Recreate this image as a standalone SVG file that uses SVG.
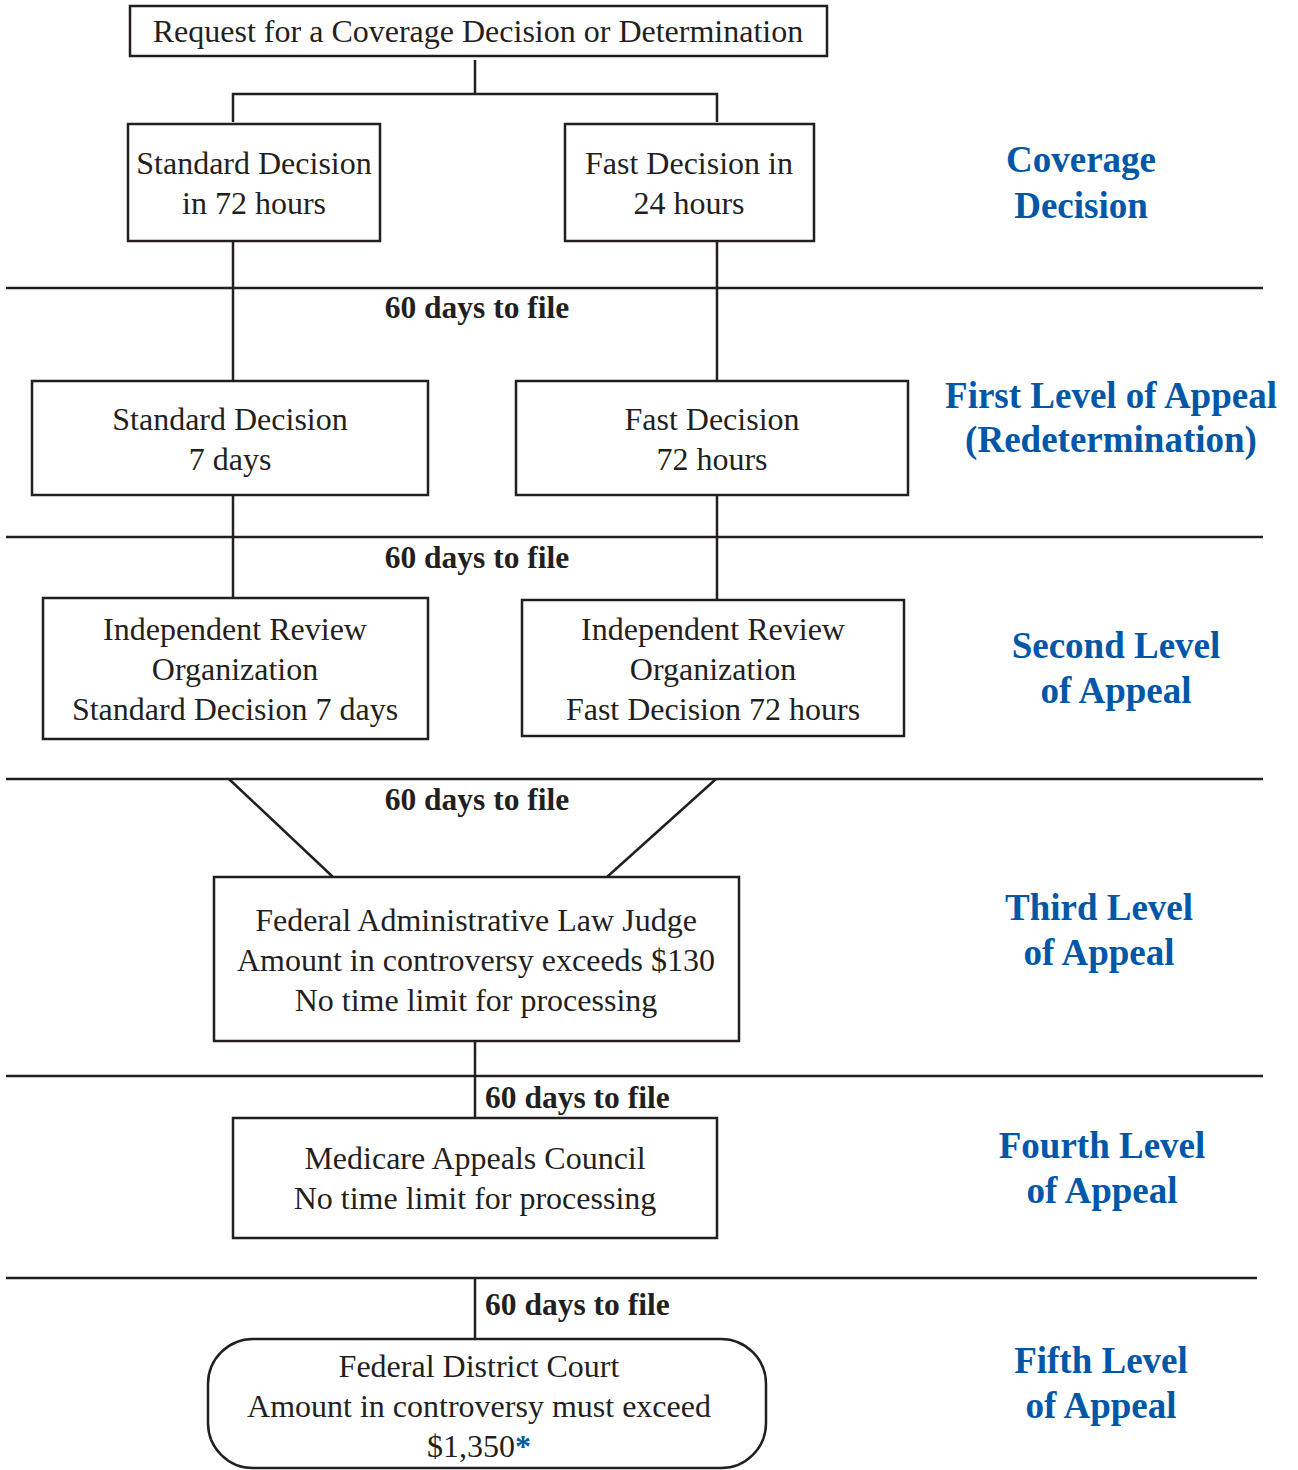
<svg xmlns="http://www.w3.org/2000/svg" width="1298" height="1470" viewBox="0 0 1298 1470">
<style>
.box{fill:#fff;stroke:#231f20;stroke-width:2.5}
.ln{stroke:#231f20;stroke-width:2.5;fill:none}
.t{font-family:"Liberation Serif",serif;font-size:32px;fill:#231f20;text-anchor:middle}
.d{font-family:"Liberation Serif",serif;font-size:31.5px;font-weight:bold;fill:#231f20}
.b{font-family:"Liberation Serif",serif;font-size:37px;font-weight:bold;fill:#0057a8;text-anchor:middle}
</style>
<rect width="1298" height="1470" fill="#fff"/>
<g id="connectors">
<line class="ln" x1="475" y1="60" x2="475" y2="94"/>
<polyline class="ln" points="233,122 233,94 717,94 717,122"/>
<line class="ln" x1="233" y1="241" x2="233" y2="381"/>
<line class="ln" x1="717" y1="241" x2="717" y2="381"/>
<line class="ln" x1="233" y1="495" x2="233" y2="598"/>
<line class="ln" x1="717" y1="495" x2="717" y2="600"/>
<line class="ln" x1="229" y1="779" x2="333" y2="877"/>
<line class="ln" x1="716" y1="779" x2="607" y2="877"/>
<line class="ln" x1="475" y1="1041" x2="475" y2="1118"/>
<line class="ln" x1="475" y1="1278" x2="475" y2="1340"/>
</g>
<g id="separators">
<line class="ln" x1="6" y1="288" x2="1263" y2="288"/>
<line class="ln" x1="6" y1="537" x2="1263" y2="537"/>
<line class="ln" x1="6" y1="779" x2="1263" y2="779"/>
<line class="ln" x1="6" y1="1076" x2="1263" y2="1076"/>
<line class="ln" x1="6" y1="1278" x2="1257" y2="1278"/>
</g>
<g id="labels">
<text class="d" x="477" y="318" text-anchor="middle">60 days to file</text>
<text class="d" x="477" y="568" text-anchor="middle">60 days to file</text>
<text class="d" x="477" y="810" text-anchor="middle">60 days to file</text>
<text class="d" x="485" y="1108">60 days to file</text>
<text class="d" x="485" y="1315">60 days to file</text>
</g>
<g id="levels">
<text class="b" x="1081" y="172">Coverage</text>
<text class="b" x="1081" y="218">Decision</text>
<text class="b" x="1111" y="408">First Level of Appeal</text>
<text class="b" x="1111" y="452">(Redetermination)</text>
<text class="b" x="1116" y="658">Second Level</text>
<text class="b" x="1116" y="703">of Appeal</text>
<text class="b" x="1099" y="920">Third Level</text>
<text class="b" x="1099" y="965">of Appeal</text>
<text class="b" x="1102" y="1158">Fourth Level</text>
<text class="b" x="1102" y="1203">of Appeal</text>
<text class="b" x="1101" y="1373">Fifth Level</text>
<text class="b" x="1101" y="1418">of Appeal</text>
</g>
<g id="request">
<rect class="box" x="130" y="6" width="697" height="50"/>
<text class="t" x="478" y="42">Request for a Coverage Decision or Determination</text>
</g>
<g id="std72">
<rect class="box" x="128" y="124" width="252" height="117"/>
<text class="t" x="254" y="174">Standard Decision</text>
<text class="t" x="254" y="214">in 72 hours</text>
</g>
<g id="fast24">
<rect class="box" x="565" y="124" width="249" height="117"/>
<text class="t" x="689" y="174">Fast Decision in</text>
<text class="t" x="689" y="214">24 hours</text>
</g>
<g id="std7">
<rect class="box" x="32" y="381" width="396" height="114"/>
<text class="t" x="230" y="430">Standard Decision</text>
<text class="t" x="230" y="470">7 days</text>
</g>
<g id="fast72">
<rect class="box" x="516" y="381" width="392" height="114"/>
<text class="t" x="712" y="430">Fast Decision</text>
<text class="t" x="712" y="470">72 hours</text>
</g>
<g id="iro-std">
<rect class="box" x="43" y="598" width="385" height="141"/>
<text class="t" x="235" y="640">Independent Review</text>
<text class="t" x="235" y="680">Organization</text>
<text class="t" x="235" y="720">Standard Decision 7 days</text>
</g>
<g id="iro-fast">
<rect class="box" x="522" y="600" width="382" height="136"/>
<text class="t" x="713" y="640">Independent Review</text>
<text class="t" x="713" y="680">Organization</text>
<text class="t" x="713" y="720">Fast Decision 72 hours</text>
</g>
<g id="alj">
<rect class="box" x="214" y="877" width="525" height="164"/>
<text class="t" x="476" y="931">Federal Administrative Law Judge</text>
<text class="t" x="476" y="971">Amount in controversy exceeds $130</text>
<text class="t" x="476" y="1011">No time limit for processing</text>
</g>
<g id="council">
<rect class="box" x="233" y="1118" width="484" height="120"/>
<text class="t" x="475" y="1169">Medicare Appeals Council</text>
<text class="t" x="475" y="1209">No time limit for processing</text>
</g>
<g id="court">
<rect class="box" x="208" y="1339" width="558" height="129" rx="45" ry="45"/>
<text class="t" x="479" y="1377">Federal District Court</text>
<text class="t" x="479" y="1417">Amount in controversy must exceed</text>
<text class="t" x="479" y="1457">$1,350<tspan fill="#0057a8" font-weight="bold">*</tspan></text>
</g>
</svg>
